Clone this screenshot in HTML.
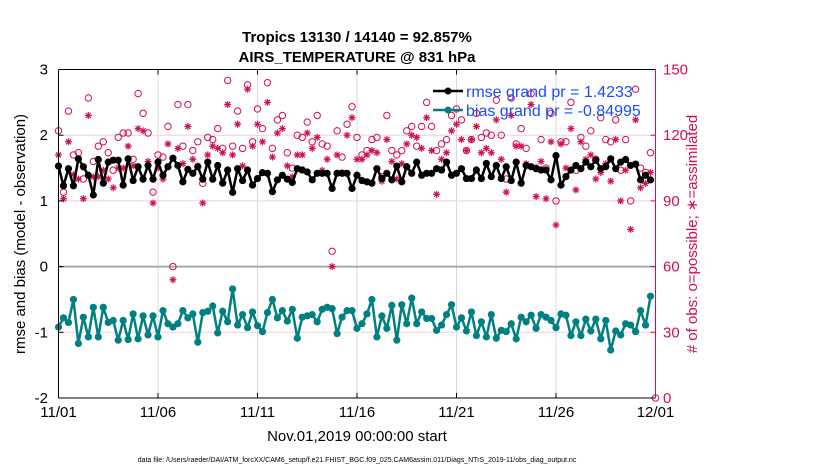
<!DOCTYPE html>
<html><head><meta charset="utf-8"><style>
html,body{margin:0;padding:0;background:#fff;}
svg{display:block;font-family:"Liberation Sans",sans-serif;}
</style></head><body>
<svg id="chart" width="830" height="470" viewBox="0 0 830 470" xmlns="http://www.w3.org/2000/svg">
<rect x="0" y="0" width="830" height="470" fill="#fff"/>
<g id="grid"></g>
<g id="marks"></g>
<g id="axes"></g>
<text x="357" y="42" text-anchor="middle" font-size="15" font-weight="bold">Tropics 13130 / 14140 = 92.857%</text>
<text x="357" y="62" text-anchor="middle" font-size="15" font-weight="bold">AIRS_TEMPERATURE @ 831 hPa</text>
<text x="357" y="441" text-anchor="middle" font-size="15">Nov.01,2019 00:00:00 start</text>
<text transform="translate(25,234) rotate(-90)" text-anchor="middle" font-size="15">rmse and bias (model - observation)</text>
<text transform="translate(697,234) rotate(-90)" text-anchor="middle" font-size="15" fill="#d0104c"># of obs: o=possible; ∗=assimilated</text>
<text x="357" y="462" text-anchor="middle" font-size="7">data file: /Users/raeder/DAI/ATM_forcXX/CAM6_setup/f.e21.FHIST_BGC.f09_025.CAM6assim.011/Diags_NTrS_2019-11/obs_diag_output.nc</text>
<g>
<g>
<line x1="433" y1="91" x2="463" y2="91" stroke="#000" stroke-width="2.5"/>
<circle cx="448" cy="91" r="3.5" fill="#000"/>
<text x="466" y="97" font-size="16" fill="#1a4cff">rmse grand pr = 1.4233</text>
</g>
<g>
<line x1="433" y1="110" x2="463" y2="110" stroke="#008080" stroke-width="2.5"/>
<circle cx="448" cy="110" r="3.5" fill="#008080"/>
<text x="466" y="116" font-size="16" fill="#1a4cff">bias grand pr = -0.84995</text>
</g>
</g>
</svg>
<script>
const rmse=[1.53,1.23,1.49,1.23,1.64,1.52,1.39,1.09,1.63,1.27,1.59,1.62,1.62,1.24,1.64,1.31,1.52,1.33,1.54,1.33,1.59,1.39,1.52,1.65,1.54,1.29,1.48,1.42,1.52,1.33,1.59,1.33,1.54,1.27,1.47,1.13,1.49,1.31,1.47,1.24,1.34,1.43,1.42,1.14,1.32,1.39,1.33,1.28,1.49,1.47,1.44,1.32,1.42,1.42,1.42,1.19,1.42,1.42,1.42,
1.19,1.39,1.31,1.29,1.27,1.49,1.34,1.42,1.32,1.53,1.29,1.52,1.42,1.59,1.39,1.42,1.42,1.49,1.47,1.59,1.39,1.42,1.49,1.34,1.34,1.47,1.34,1.57,1.37,1.54,1.34,1.52,1.31,1.59,1.27,1.54,1.52,1.49,1.47,1.47,1.32,1.69,1.24,1.37,1.47,1.54,1.49,1.59,1.52,1.62,1.49,1.52,1.64,1.49,1.59,1.63,1.54,1.56,1.32,1.39,1.32];
const bias=[-0.92,-0.78,-0.85,-0.50,-1.17,-0.77,-1.07,-0.62,-1.07,-0.62,-0.85,-0.82,-1.12,-0.82,-1.11,-0.72,-1.10,-0.75,-1.04,-0.75,-1.07,-0.67,-0.87,-0.92,-0.87,-0.67,-0.78,-0.72,-1.15,-0.70,-0.68,-0.60,-1.01,-0.68,-0.84,-0.34,-0.89,-0.73,-0.93,-0.69,-0.90,-0.99,-0.70,-0.50,-0.78,-0.67,-0.83,-0.65,-1.09,-0.77,-0.75,-0.73,-0.84,-0.65,-0.62,-0.64,-1.02,-0.77,-0.67,
-0.67,-0.94,-0.87,-0.72,-0.50,-1.07,-0.75,-0.94,-0.59,-1.12,-0.58,-0.87,-0.48,-0.87,-0.69,-0.79,-0.79,-0.97,-0.89,-0.73,-0.58,-0.92,-0.78,-0.98,-0.69,-1.05,-0.84,-1.07,-0.73,-1.09,-0.97,-0.99,-0.87,-1.10,-0.77,-0.84,-0.74,-0.94,-0.73,-0.77,-0.82,-0.93,-0.72,-0.74,-1.05,-0.84,-1.05,-0.80,-0.98,-0.80,-1.10,-0.82,-1.27,-0.98,-1.04,-0.87,-0.89,-0.99,-0.67,-0.89,-0.45];
const possible=[122,94,131,111,112,100,137,108,115,117,112,104,119,121,121,109,139,130,121,94,111,110,124,60,134,115,134,113,117,98,119,118,123,114,145,115,131,114,143,117,132,123,144,114,127,129,112,105,120,119,126,117,129,116,115,67,122,110,125,
133,119,111,113,118,119,101,129,113,111,113,122,124,115,124,135,124,113,116,118,129,132,127,113,118,130,119,121,120,136,120,100,137,116,123,114,139,105,118,105,130,90,117,117,135,104,119,115,122,109,128,118,117,127,104,118,90,141,105,103,112,0];
const assimilated=[111,91,117,102,100,91,129,101,101,104,100,96,105,105,115,106,123,122,108,89,105,100,116,54,114,107,124,109,106,89,111,115,114,112,134,111,125,106,141,115,125,117,135,110,121,123,106,101,111,111,121,114,119,104,109,60,111,103,120,
128,109,109,111,113,112,99,118,108,100,107,116,120,119,114,128,113,93,109,112,122,125,118,113,118,124,112,114,112,127,109,94,129,115,115,107,134,92,108,91,117,79,116,105,123,95,117,109,111,100,103,107,99,118,90,104,77,127,96,98,103];
const leftTicks=[3,2,1,0,-1,-2];
const rightTicks=[150,120,90,60,30,0];
const xTickLabels=['11/01','11/06','11/11','11/16','11/21','11/26','12/01'];
const xTickDays=[0,5,10,15,20,25,30];

const X0=58.5,X1=655.5,YT=69.5,YB=398;
const NS='http://www.w3.org/2000/svg';
function xs(d){return X0+(d/30)*(X1-X0);}
function yl(v){return YT+(3-v)/5*(YB-YT);}
function yr(v){return YB-(v/150)*(YB-YT);}
function mk(tag,attrs,parent){const e=document.createElementNS(NS,tag);for(const k in attrs)e.setAttribute(k,attrs[k]);parent.appendChild(e);return e;}
const grid=document.getElementById('grid'),marks=document.getElementById('marks'),axes=document.getElementById('axes');

xTickDays.forEach((d,i)=>{
  if(i>0&&i<xTickDays.length-1){const g=mk('line',{x1:xs(d),y1:YT,x2:xs(d),y2:YB,stroke:'#d9d9d9','stroke-width':1},grid);
  
  }
  const t=mk('text',{x:xs(d),y:417,'text-anchor':'middle','font-size':15},axes);t.textContent=xTickLabels[i];
  
  
  mk('line',{x1:xs(d),y1:YB,x2:xs(d),y2:YB-5,stroke:'#000'},axes);
  mk('line',{x1:xs(d),y1:YT,x2:xs(d),y2:YT+5,stroke:'#000'},axes);
});
leftTicks.forEach(v=>{
  if(v!==3&&v!==-2&&v!==0){const g=mk('line',{x1:X0,y1:yl(v),x2:X1,y2:yl(v),stroke:'#f0d0dc','stroke-width':1},grid);
  
  }
  const t=mk('text',{x:48,y:yl(v)+5,'text-anchor':'end','font-size':15},axes);t.textContent=v;
  
  
  mk('line',{x1:X0,y1:yl(v),x2:X0+5,y2:yl(v),stroke:'#000'},axes);
});
rightTicks.forEach(v=>{
  const t=mk('text',{x:663,y:yr(v)+5,'text-anchor':'start','font-size':15,fill:'#d0104c'},axes);t.textContent=v;
  
  
  mk('line',{x1:X1,y1:yr(v),x2:X1-5,y2:yr(v),stroke:'#d0104c'},axes);
});
const zl=mk('line',{x1:X0,y1:yl(0),x2:X1,y2:yl(0),stroke:'#aaa','stroke-width':2},grid);



const day=i=>i*0.25;
// obs markers
possible.forEach((v,i)=>{
  const c=mk('circle',{cx:xs(day(i)),cy:yr(v),r:3.2,fill:'none',stroke:'#d0104c','stroke-width':1},marks);
  
  
});
assimilated.forEach((v,i)=>{
  const cx=xs(day(i)),cy=yr(v);
  const g=mk('g',{stroke:'#d0104c','stroke-width':1.2},marks);
  
  
  mk('line',{x1:cx-3.5,y1:cy,x2:cx+3.5,y2:cy},g);
  mk('line',{x1:cx,y1:cy-3.5,x2:cx,y2:cy+3.5},g);
  mk('line',{x1:cx-2.5,y1:cy-2.5,x2:cx+2.5,y2:cy+2.5},g);
  mk('line',{x1:cx-2.5,y1:cy+2.5,x2:cx+2.5,y2:cy-2.5},g);
});
function series(arr,col,name){
  const p=mk('polyline',{points:arr.map((v,i)=>xs(day(i))+','+yl(v)).join(' '),fill:'none',stroke:col,'stroke-width':2.5,'stroke-linejoin':'round'},marks);
  
  
  arr.forEach((v,i)=>{
    const c=mk('circle',{cx:xs(day(i)),cy:yl(v),r:3.6,fill:col},marks);
    
    
  });
}
series(rmse,'#000','rmse');
series(bias,'#008080','bias');

// frame
mk('line',{x1:X0,y1:YT,x2:X1,y2:YT,stroke:'#000'},axes);
mk('line',{x1:X0,y1:YB,x2:X1,y2:YB,stroke:'#000'},axes);
mk('line',{x1:X0,y1:YT,x2:X0,y2:YB,stroke:'#000'},axes);
mk('line',{x1:X1,y1:YT,x2:X1,y2:YB,stroke:'#d0104c'},axes);
</script>
</body></html>
